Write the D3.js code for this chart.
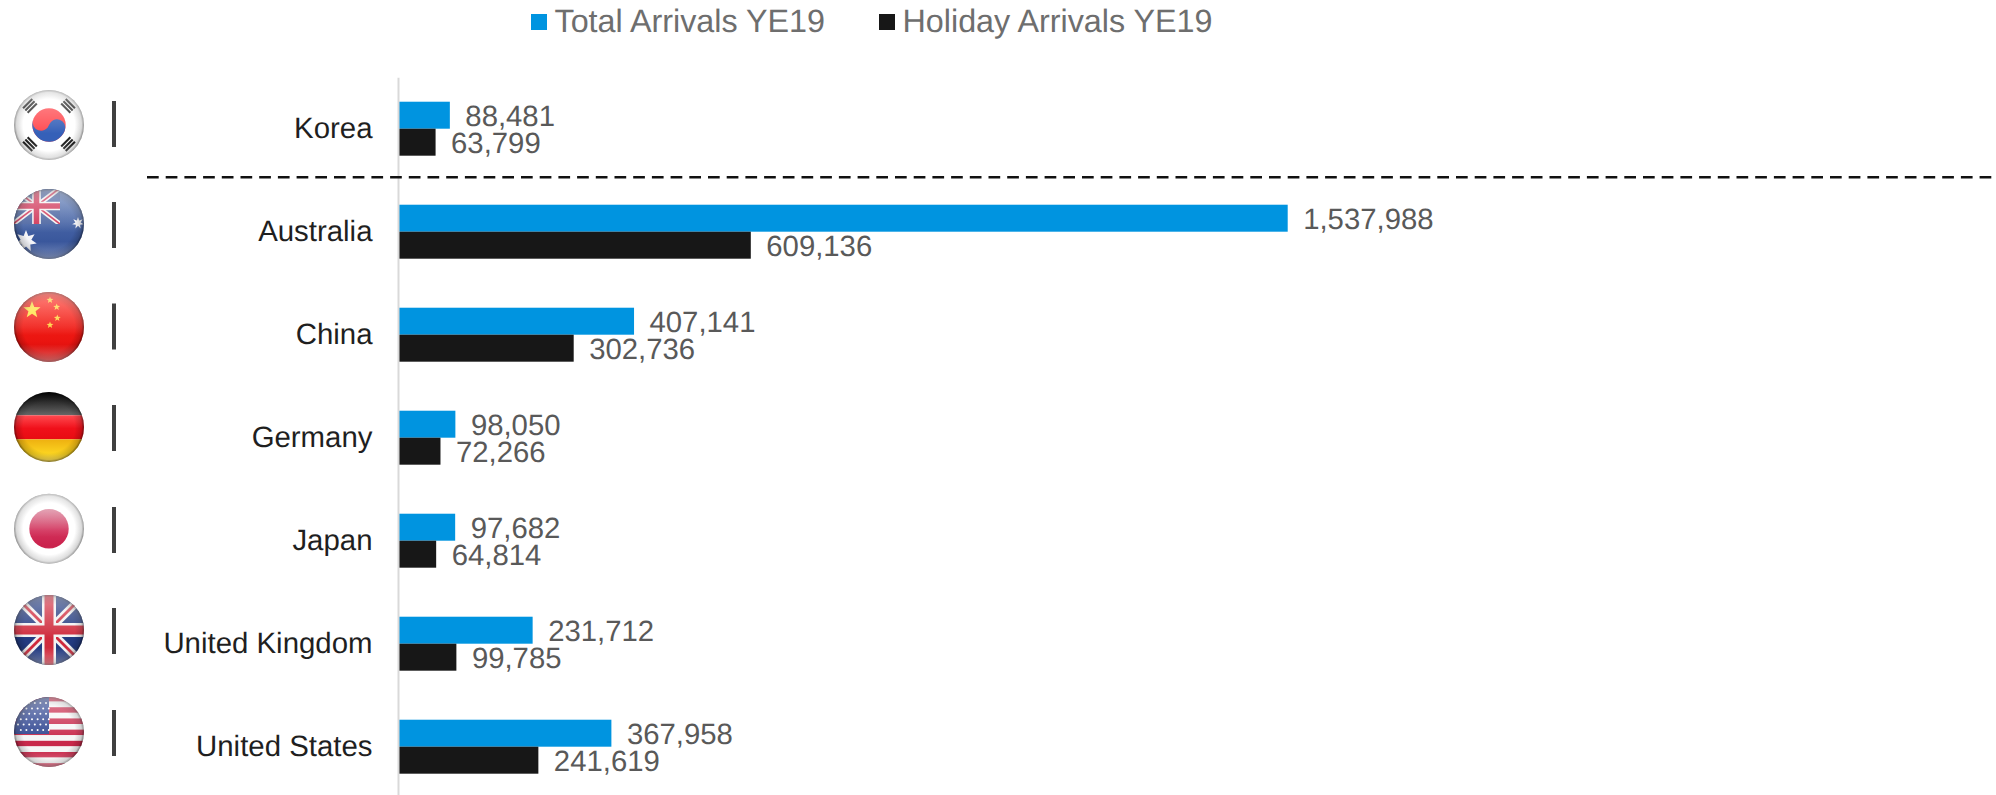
<!DOCTYPE html>
<html><head><meta charset="utf-8">
<script src="https://cdn.jsdelivr.net/npm/d3@7"></script>
<style>
html,body{margin:0;padding:0;background:#fff}
svg{display:block;font-family:"Liberation Sans",Arial,sans-serif;text-rendering:geometricPrecision}
</style></head><body><svg id="c" width="1996" height="795"></svg>
<script>
const categories = ["Korea","Australia","China","Germany","Japan","United Kingdom","United States"];
const totalArrivals = [88481,1537988,407141,98050,97682,231712,367958];
const holidayArrivals = [63799,609136,302736,72266,64814,99785,241619];
const seriesNames = ["Total Arrivals YE19","Holiday Arrivals YE19"];
const seriesColors = ["#0094e0","#171717"];
const flagCodes = ["kr","au","cn","de","jp","gb","us"];

const svg = d3.select("#c");
const defs = svg.append("defs");
const x = d3.scaleLinear().domain([0,1537988]).range([398.7,1287.7]);
const y = d3.scaleBand().domain(categories).range([77.2,798.2]).paddingInner(0.476).paddingOuter(0.238);
const y2 = d3.scaleBand().domain(seriesNames).range([0,y.bandwidth()]);
const fmt = d3.format(",");

// legend
const legendX = [531,879];
seriesNames.forEach((n,i)=>{
  svg.append("rect").attr("x",legendX[i]).attr("y",14).attr("width",16).attr("height",16).attr("fill",seriesColors[i]);
  svg.append("text").attr("x",legendX[i]+23.5).attr("y",32).attr("font-size",32.3).attr("fill","#6e6e6e").text(n);
});

// bars and labels
[totalArrivals,holidayArrivals].forEach((vals,s)=>{
  const g = svg.append("g");
  g.selectAll("rect").data(vals).join("rect")
    .attr("x",x(0)).attr("y",(d,i)=>y(categories[i])+y2(seriesNames[s]))
    .attr("width",d=>x(d)-x(0)).attr("height",y2.bandwidth())
    .attr("fill",seriesColors[s]);
  g.selectAll("text").data(vals).join("text")
    .attr("x",d=>x(d)+15.5)
    .attr("y",(d,i)=>y(categories[i])+y2(seriesNames[s])+y2.bandwidth()/2+10.5)
    .attr("font-size",29.3).attr("fill","#595959").text(d=>fmt(d));
});

// category axis
const ax = svg.append("g").attr("transform","translate(398,0)")
  .call(d3.axisLeft(y).tickSize(0).tickPadding(25.5));
ax.select(".domain").attr("stroke","#d9d9d9").attr("stroke-width",2);
ax.selectAll("text").attr("font-size",29.4).attr("font-family","'Liberation Sans',Arial,sans-serif")
  .attr("fill","#1f1f1f").attr("dy","0.33em");

// dashed divider between Korea and the others
const divY = (y("Korea")+y.bandwidth()+y("Australia"))/2;
svg.append("line").attr("x1",147).attr("x2",1996).attr("y1",divY-3).attr("y2",divY-3)
  .attr("stroke","#111").attr("stroke-width",2.5).attr("stroke-dasharray","11.7 7");

// flag helpers
const R = 35;
function gradient(id,stops,horiz){
  const g=defs.append("linearGradient").attr("id",id).attr("x1",0).attr("y1",0).attr("x2",horiz?1:0).attr("y2",horiz?0:1);
  stops.forEach(s=>g.append("stop").attr("offset",s[0]).attr("stop-color",s[1]).attr("stop-opacity",s[2]===undefined?1:s[2]));
}
const rim=defs.append("radialGradient").attr("id","rim").attr("cx",.5).attr("cy",.5).attr("r",.5);
[[0,"#000",0],[.74,"#000",0],[.93,"#000",.18],[1,"#000",.52]].forEach(s=>rim.append("stop").attr("offset",s[0]).attr("stop-color",s[1]).attr("stop-opacity",s[2]));
gradient("gloss",[[0,"#fff",.42],[.5,"#fff",.1],[.62,"#fff",0],[1,"#fff",0]]);
gradient("glow",[[0,"#fff",0],[.75,"#fff",0],[1,"#fff",.35]]);
gradient("auBlue",[[0,"#5a78b4"],[1,"#2f4c94"]]);
gradient("cnRed",[[0,"#ff2a1e"],[.7,"#ea1410"],[1,"#c90c0c"]]);
gradient("jpRed",[[0,"#d98098"],[.55,"#d2305a"],[1,"#c9204a"]]);
gradient("deBlack",[[0,"#000"],[1,"#666"]]);
gradient("deRed",[[0,"#ff4a50"],[.55,"#f0101a"],[1,"#e80c12"]]);
gradient("deGold",[[0,"#eeb010"],[.6,"#fcd420"],[1,"#ffe468"]]);
defs.append("clipPath").attr("id","disc").append("circle").attr("r",R);
defs.append("clipPath").attr("id","auCanton").append("rect").attr("x",-36).attr("y",-36).attr("width",47).attr("height",36);

function star(g,cx,cy,r,fill,pts=5,inner=.42){
  const p=[];
  for(let i=0;i<pts*2;i++){
    const a=-Math.PI/2+i*Math.PI/pts, q=i%2?r*inner:r;
    p.push([cx+q*Math.cos(a),cy+q*Math.sin(a)]);
  }
  g.append("polygon").attr("points",p.map(d=>d.join(",")).join(" ")).attr("fill",fill);
}
function line(g,a,b,c,d,col,w){g.append("line").attr("x1",a).attr("y1",b).attr("x2",c).attr("y2",d).attr("stroke",col).attr("stroke-width",w);}
function rect(g,a,b,w,h,col){g.append("rect").attr("x",a).attr("y",b).attr("width",w).attr("height",h).attr("fill",col);}

function unionJack(g,x0,y0,x1,y1,blue,red,scale){
  rect(g,x0,y0,x1-x0,y1-y0,blue);
  const cx=(x0+x1)/2, cy=(y0+y1)/2;
  line(g,x0,y0,x1,y1,"#f2f2f2",8*scale); line(g,x0,y1,x1,y0,"#f2f2f2",8*scale);
  line(g,x0,y0,x1,y1,red,2.8*scale); line(g,x0,y1,x1,y0,red,2.8*scale);
  line(g,cx,y0,cx,y1,"#f2f2f2",14*scale); line(g,x0,cy,x1,cy,"#f2f2f2",14*scale);
  line(g,cx,y0,cx,y1,red,9*scale); line(g,x0,cy,x1,cy,red,9*scale);
}
const draw={
  kr(g){
    rect(g,-36,-36,72,72,"#fff");
    const r=16.7;
    g.append("circle").attr("r",r).attr("fill","#ff4a50");
    g.append("path").attr("transform","rotate(18)")
      .attr("d",`M${-r},0 A${r},${r} 0 0,0 ${r},0 A${r/2},${r/2} 0 0,0 0,0 A${r/2},${r/2} 0 0,1 ${-r},0Z`).attr("fill","#3560b8");
    [-45,45,135,225].forEach(a=>{
      const t=g.append("g").attr("transform",`rotate(${a}) translate(0,-27)`);
      d3.range(3).forEach(i=>rect(t,-6.5,-4.2+i*3.2,13,2.1,"#222"));
    });
  },
  au(g){
    g.append("rect").attr("x",-36).attr("y",-36).attr("width",72).attr("height",72).attr("fill","url(#auBlue)");
    const c=g.append("g").attr("clip-path","url(#auCanton)");
    unionJack(c,-36,-36,11,0,"#48629f","#cf3154",.62);
    star(g,-23,17,11,"#f4f4f8",7,.5);
    star(g,29,-1,6,"#f4f4f8",7,.45);
  },
  cn(g){
    g.append("rect").attr("x",-36).attr("y",-36).attr("width",72).attr("height",72).attr("fill","url(#cnRed)");
    star(g,-17,-17,9,"#ffe23c");
    [[1,-27],[7.7,-20],[8.3,-9],[1,-2]].forEach(d=>star(g,d[0],d[1],3.6,"#ffd23c"));
  },
  de(g){
    rect(g,-36,-36,72,24.3,"url(#deBlack)");
    rect(g,-36,-11.7,72,24,"url(#deRed)");
    rect(g,-36,12.3,72,24,"url(#deGold)");
  },
  jp(g){
    rect(g,-36,-36,72,72,"#fff");
    g.append("circle").attr("r",19.7).attr("fill","url(#jpRed)");
  },
  gb(g){ unionJack(g,-36,-36,36,36,"#223a80","#cf2a3c",1); },
  us(g){
    d3.range(13).forEach(i=>rect(g,-36,-36+i*5.6,72,5.6,i%2?"#f6f6f6":"#c8284a"));
    rect(g,-36,-36,36,38,"#2f4590");
    d3.range(6).forEach(r=>d3.range(6).forEach(c=>{
      g.append("circle").attr("cx",-31+c*5.6+(r%2?2.8:0)).attr("cy",-29+r*5.4).attr("r",1).attr("fill","#fff");
    }));
  }
};
const flagY=[125,224,327,427,528.7,630,732];
const tickY=[124,225,326.5,428,530,631,733];
flagCodes.forEach((code,i)=>{
  const g=svg.append("g").attr("transform",`translate(49,${flagY[i]})`);
  const inner=g.append("g").attr("clip-path","url(#disc)");
  draw[code](inner);
  const light=code==="kr"||code==="jp";
  g.append("circle").attr("r",R).attr("fill","url(#rim)").attr("opacity",light?.9:1);
  if(code!=="de"){
    g.append("circle").attr("r",R).attr("fill","url(#gloss)");
    g.append("circle").attr("r",R).attr("fill","url(#glow)");
  }
  svg.append("rect").attr("x",112).attr("y",tickY[i]-23).attr("width",4).attr("height",46).attr("fill","#404040");
});
</script></body></html>
